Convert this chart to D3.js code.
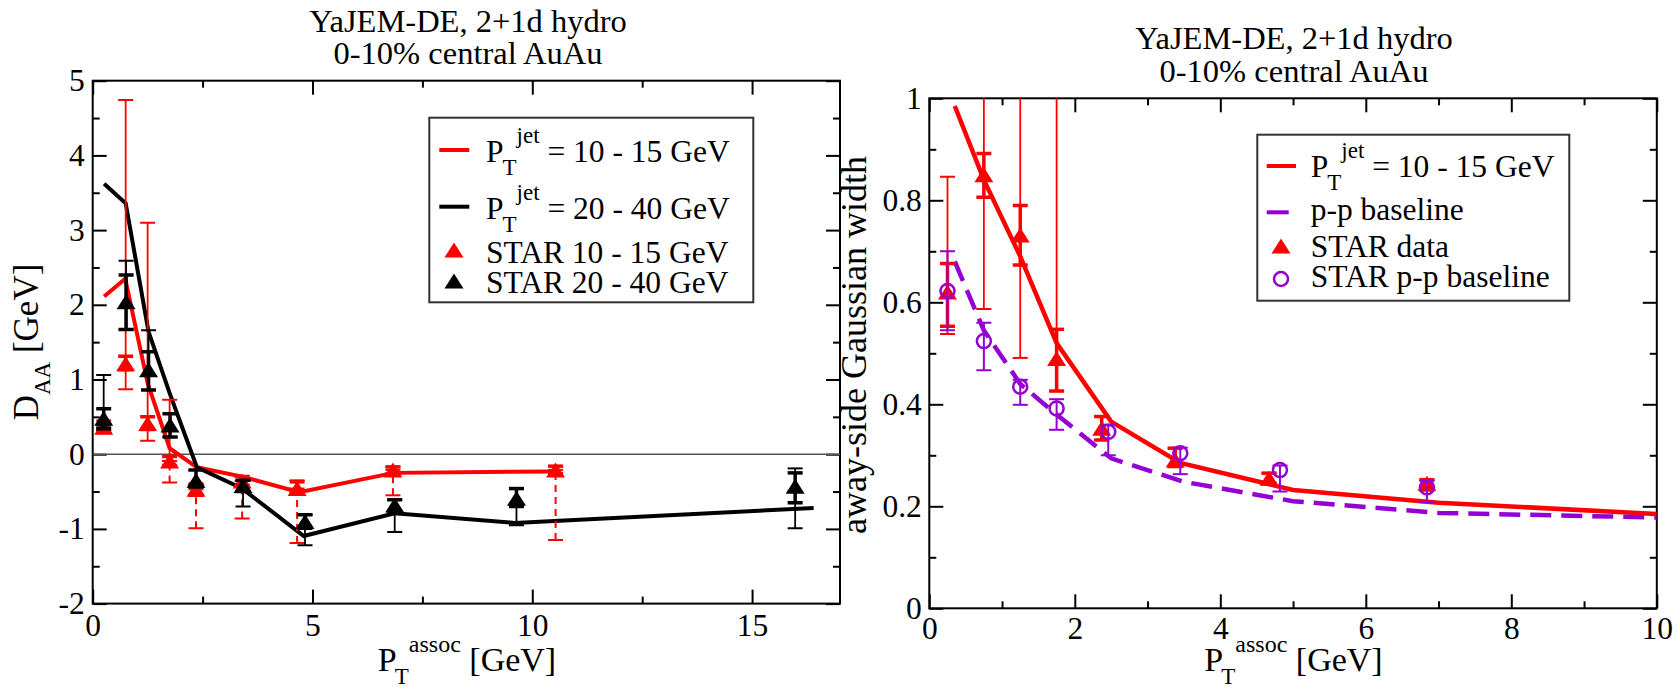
<!DOCTYPE html>
<html>
<head>
<meta charset="utf-8">
<script src="https://cdn.jsdelivr.net/npm/d3@7"></script>
<style>
  body { margin: 0; background: #fff; }
  svg text { font-family: "Liberation Serif", "Times New Roman", serif; fill: #000; }
</style>
</head>
<body>
<div id="chart"></div>
<script>
/** * ------------------ Data: left panel (D_AA) ------------------ ***/

// YaJEM-DE model curves
const modelLowX = [0.26, 0.74, 1.25, 1.75, 2.37, 3.4, 4.7, 6.85, 10.55]
const modelLowY = [2.11, 2.35, 0.95, 0.08, -0.175, -0.30, -0.51, -0.25, -0.23]
const modelHighX = [0.26, 0.75, 1.27, 1.76, 2.37, 3.4, 4.8, 6.87, 9.6, 16.4]
const modelHighY = [3.62, 3.36, 1.64, 0.80, -0.175, -0.46, -1.095, -0.79, -0.92, -0.72]

// STAR 10 - 15 GeV
const starLowX = [0.25, 0.75, 1.25, 1.75, 2.35, 3.4, 4.65, 6.83, 10.53]
const starLowY = [0.36, 1.21, 0.41, -0.09, -0.47, -0.36, -0.46, -0.21, -0.21]
const starLowStatLo = [0.28, 0.87, 0.18, -0.09, -0.55, -0.42, -0.52, -0.26, -0.26]
const starLowStatHi = [0.45, 4.74, 3.10, 0.73, -0.40, -0.30, -0.35, -0.17, -0.16]
const starLowSysLo = [0.30, 1.13, 0.33, -0.15, -0.55, -0.42, -0.52, -0.26, -0.26]
const starLowSysHi = [0.40, 1.31, 0.50, -0.03, -0.40, -0.30, -0.37, -0.17, -0.16]
const starLowDashLo = [null, null, null, -0.38, -0.99, -0.86, -1.19, -0.55, -1.15]

// STAR 20 - 40 GeV
const starHighX = [0.25, 0.76, 1.27, 1.76, 2.35, 3.42, 4.83, 6.87, 9.64, 15.98]
const starHighY = [0.48, 2.04, 1.13, 0.39, -0.35, -0.42, -0.90, -0.68, -0.59, -0.43]
const starHighSysLo = [0.35, 1.67, 0.86, 0.23, -0.44, -0.50, -0.99, -0.77, -0.70, -0.65]
const starHighSysHi = [0.61, 2.40, 1.37, 0.54, -0.21, -0.35, -0.81, -0.61, -0.46, -0.25]
const starHighStatLo = [0.33, 1.67, 0.86, 0.23, -0.44, -0.70, -1.22, -1.04, -0.95, -0.99]
const starHighStatHi = [1.06, 2.59, 1.66, 0.54, -0.21, -0.35, -0.81, -0.61, -0.46, -0.19]

const leftXTicks = [0, 5, 10, 15]
const leftXMinor = [2.5, 7.5, 12.5]
const leftYTicks = [-2, -1, 0, 1, 2, 3, 4, 5]
const leftYMinor = [-1.5, -0.5, 0.5, 1.5, 2.5, 3.5, 4.5]

/** * ------------------ Data: right panel (width) ------------------ ***/

const widthModelX = [0.35, 0.75, 1.25, 1.75, 2.5, 3.45, 5, 7, 10]
const widthModelY = [0.985, 0.84, 0.69, 0.52, 0.366, 0.285, 0.232, 0.207, 0.185]
const widthPPX = [0.35, 0.75, 1.25, 1.75, 2.5, 3.5, 5, 7, 10]
const widthPPY = [0.68, 0.545, 0.44, 0.38, 0.294, 0.248, 0.21, 0.187, 0.178]

// STAR data
const widthStarX = [0.25, 0.75, 1.25, 1.75, 2.37, 3.38, 4.67, 6.84]
const widthStarY = [0.62, 0.85, 0.732, 0.49, 0.353, 0.291, 0.255, 0.245]
const widthStarStatLo = [0.538, 0.587, 0.491, 0.426, 0.33, 0.278, 0.245, 0.232]
const widthStarStatHi = [0.846, 1.2, 1.2, 1.2, 0.376, 0.314, 0.265, 0.252]
const widthStarSysLo = [0.553, 0.806, 0.673, 0.426, 0.33, 0.278, 0.245, 0.232]
const widthStarSysHi = [0.676, 0.892, 0.79, 0.547, 0.376, 0.314, 0.265, 0.252]

// STAR p-p baseline
const ppStarX = [0.25, 0.75, 1.25, 1.75, 2.46, 3.45, 4.82, 6.84]
const ppStarY = [0.622, 0.524, 0.4345, 0.392, 0.346, 0.304, 0.271, 0.237]
const ppStarLo = [0.545, 0.467, 0.399, 0.35, 0.30, 0.263, 0.229, 0.208]
const ppStarHi = [0.70, 0.56, 0.448, 0.41, 0.36, 0.315, 0.28, 0.25]

const rightXTicks = [0, 2, 4, 6, 8, 10]
const rightXMinor = [1, 3, 5, 7, 9]
const rightYTicks = [0, 0.2, 0.4, 0.6, 0.8, 1]
const rightYMinor = [0.1, 0.3, 0.5, 0.7, 0.9]

/** * ------------------ Set up ------------------ ***/

const RED = '#ff0000'
const PURPLE = '#9400d3'
const TRI_W = 19
const TRI_H = 15
const LEG_FONT = 31.5

const svg = d3.select('#chart').append('svg')
  .attr('width', 1677)
  .attr('height', 689)

const xLeft = d3.scaleLinear().domain([0, 17]).range([92.7, 840])
const yLeft = d3.scaleLinear().domain([-2, 5]).range([603.6, 80.7])
const xRight = d3.scaleLinear().domain([0, 10]).range([929.3, 1656.8])
const yRight = d3.scaleLinear().domain([0, 1]).range([608.3, 98.3])

/** * ------------------ Left panel ------------------ ***/

const left = svg.append('g')
drawFrame(left, xLeft, yLeft, leftXTicks, leftXMinor, leftYTicks, leftYMinor, 10, 8, 'clipL')
const leftData = left.append('g').attr('clip-path', 'url(#clipL)')

// zero line
leftData.append('line')
  .attr('x1', xLeft(0)).attr('x2', xLeft(17))
  .attr('y1', yLeft(0)).attr('y2', yLeft(0))
  .attr('stroke', '#555').attr('stroke-width', 1.6)

drawLine(leftData, xLeft, yLeft, modelLowX, modelLowY, RED, 4, null)
drawLine(leftData, xLeft, yLeft, modelHighX, modelHighY, '#000', 4, null)

errorBars(leftData, xLeft, yLeft, starLowX, starLowDashLo, starLowY, RED, 2, 2, '7,5')
errorBars(leftData, xLeft, yLeft, starLowX, starLowStatLo, starLowStatHi, RED, 1.8, 2, null)
errorBars(leftData, xLeft, yLeft, starLowX, starLowSysLo, starLowSysHi, RED, 3.5, 3.5, null)
triangles(leftData, xLeft, yLeft, starLowX, starLowY, RED)

errorBars(leftData, xLeft, yLeft, starHighX, starHighStatLo, starHighStatHi, '#000', 1.8, 2, null)
errorBars(leftData, xLeft, yLeft, starHighX, starHighSysLo, starHighSysHi, '#000', 3.5, 3.5, null)
triangles(leftData, xLeft, yLeft, starHighX, starHighY, '#000')

// titles and axis labels
title(left, 468, 31.5, 64)
left.append('text')
  .attr('transform', 'translate(38,342) rotate(-90)')
  .attr('text-anchor', 'middle')
  .attr('font-size', 35)
  .call(t => {
    t.append('tspan').text('D')
    t.append('tspan').attr('font-size', 23).attr('dy', 12).text('AA')
    t.append('tspan').attr('dy', -12).text(' [GeV]')
  })
xLabel(left, 467, 671)

// legend
const legL = left.append('g')
legL.append('rect')
  .attr('x', 429.3).attr('y', 117.7).attr('width', 324).attr('height', 184.6)
  .attr('fill', '#fff').attr('stroke', '#333').attr('stroke-width', 2)
legendLine(legL, 439.3, 469.3, 150, RED, null)
jetText(legL, 486, 162, ' = 10 - 15 GeV')
legendLine(legL, 439.3, 469.3, 206.7, '#000', null)
jetText(legL, 486, 218.7, ' = 20 - 40 GeV')
legL.append('path').attr('d', triPath()).attr('transform', translation(454, 250)).attr('fill', RED)
legL.append('text').attr('x', 486).attr('y', 262.7).attr('font-size', LEG_FONT).text('STAR 10 - 15 GeV')
legL.append('path').attr('d', triPath()).attr('transform', translation(454, 281)).attr('fill', '#000')
legL.append('text').attr('x', 486).attr('y', 293.3).attr('font-size', LEG_FONT).text('STAR 20 - 40 GeV')

/** * ------------------ Right panel ------------------ ***/

const right = svg.append('g')
drawFrame(right, xRight, yRight, rightXTicks, rightXMinor, rightYTicks, rightYMinor, 8, 7.5, 'clipR')
const rightData = right.append('g').attr('clip-path', 'url(#clipR)')

drawLine(rightData, xRight, yRight, widthModelX, widthModelY, RED, 4.5, null)
drawLine(rightData, xRight, yRight, widthPPX, widthPPY, PURPLE, 4.5, '21,10')

errorBars(rightData, xRight, yRight, widthStarX, widthStarStatLo, widthStarStatHi, RED, 1.8, 2, null)
errorBars(rightData, xRight, yRight, widthStarX, widthStarSysLo, widthStarSysHi, RED, 3.5, 3.5, null)
triangles(rightData, xRight, yRight, widthStarX, widthStarY, RED)

errorBars(rightData, xRight, yRight, ppStarX, ppStarLo, ppStarHi, PURPLE, 2, 2, null)
rightData.selectAll(null)
  .data(d3.zip(ppStarX, ppStarY))
  .join('circle')
  .attr('cx', d => xRight(d[0]))
  .attr('cy', d => yRight(d[1]))
  .attr('r', 7)
  .attr('fill', 'none')
  .attr('stroke', PURPLE)
  .attr('stroke-width', 2.5)

title(right, 1294, 49, 82)
right.append('text')
  .attr('transform', 'translate(866,345) rotate(-90)')
  .attr('text-anchor', 'middle')
  .attr('font-size', 36)
  .text('away-side Gaussian width')
xLabel(right, 1293.5, 671)

const legR = right.append('g')
legR.append('rect')
  .attr('x', 1257.3).attr('y', 134.7).attr('width', 312).attr('height', 166)
  .attr('fill', '#fff').attr('stroke', '#333').attr('stroke-width', 2)
legendLine(legR, 1266.7, 1296, 166, RED, null)
jetText(legR, 1310.7, 176.7, ' = 10 - 15 GeV')
legendLine(legR, 1266.7, 1296, 212.3, PURPLE, '22,10')
legR.append('text').attr('x', 1310.7).attr('y', 220).attr('font-size', LEG_FONT).text('p-p baseline')
legR.append('path').attr('d', triPath()).attr('transform', translation(1281, 246)).attr('fill', RED)
legR.append('text').attr('x', 1310.7).attr('y', 256.7).attr('font-size', LEG_FONT).text('STAR data')
legR.append('circle').attr('cx', 1281).attr('cy', 279).attr('r', 7)
  .attr('fill', 'none').attr('stroke', PURPLE).attr('stroke-width', 2.5)
legR.append('text').attr('x', 1310.7).attr('y', 286.7).attr('font-size', LEG_FONT).text('STAR p-p baseline')

/** * ------------------ Functions ------------------ ***/

function drawFrame (g, x, y, xTicks, xMinor, yTicks, yMinor, xPad, yPad, clipId) {
  const [x0, x1] = x.range()
  const [y1, y0] = y.range()

  g.append('clipPath').attr('id', clipId)
    .append('rect').attr('x', x0).attr('y', y0).attr('width', x1 - x0).attr('height', y1 - y0)

  addAxis(g, d3.axisBottom, x, translation(0, y1), xTicks, 14, true, xPad)
  addAxis(g, d3.axisBottom, x, translation(0, y1), xMinor, 7, false, 0)
  addAxis(g, d3.axisTop, x, translation(0, y0), xTicks, 14, false, 0)
  addAxis(g, d3.axisTop, x, translation(0, y0), xMinor, 7, false, 0)
  addAxis(g, d3.axisLeft, y, translation(x0, 0), yTicks, 14, true, yPad)
  addAxis(g, d3.axisLeft, y, translation(x0, 0), yMinor, 7, false, 0)
  addAxis(g, d3.axisRight, y, translation(x1, 0), yTicks, 14, false, 0)
  addAxis(g, d3.axisRight, y, translation(x1, 0), yMinor, 7, false, 0)

  g.append('rect')
    .attr('x', x0).attr('y', y0).attr('width', x1 - x0).attr('height', y1 - y0)
    .attr('fill', 'none').attr('stroke', '#000').attr('stroke-width', 2)
}

function addAxis (g, axisFn, scale, pos, values, size, labels, pad) {
  const axis = axisFn(scale)
    .tickValues(values)
    .tickSizeInner(-size)
    .tickSizeOuter(0)
    .tickPadding(pad)
    .tickFormat(labels ? d => String(d) : '')
  const a = g.append('g').attr('transform', pos).call(axis)
  a.select('.domain').remove()
  a.selectAll('line').attr('stroke', '#000').attr('stroke-width', 2)
  a.selectAll('text')
    .attr('font-size', 31.5)
    .attr('font-family', '"Liberation Serif", "Times New Roman", serif')
    .attr('fill', '#000')
}

function drawLine (g, x, y, xs, ys, color, width, dash) {
  g.append('path')
    .datum(d3.zip(xs, ys))
    .attr('d', d3.line().x(d => x(d[0])).y(d => y(d[1])))
    .attr('fill', 'none')
    .attr('stroke', color)
    .attr('stroke-width', width)
    .attr('stroke-linejoin', 'miter')
    .attr('stroke-dasharray', dash)
}

function errorBars (g, x, y, xs, lo, hi, color, width, capStroke, dash) {
  const data = d3.range(xs.length)
    .filter(i => lo[i] !== null && hi[i] !== null)
    .map(i => ({ x: xs[i], lo: lo[i], hi: hi[i] }))

  g.selectAll(null)
    .data(data)
    .join('line')
    .attr('x1', d => x(d.x)).attr('x2', d => x(d.x))
    .attr('y1', d => y(d.lo)).attr('y2', d => y(d.hi))
    .attr('stroke', color)
    .attr('stroke-width', width)
    .attr('stroke-dasharray', dash)

  g.selectAll(null)
    .data(data.flatMap(d => [{ x: d.x, v: d.lo }, { x: d.x, v: d.hi }]))
    .join('line')
    .attr('x1', d => x(d.x) - 7.5).attr('x2', d => x(d.x) + 7.5)
    .attr('y1', d => y(d.v)).attr('y2', d => y(d.v))
    .attr('stroke', color)
    .attr('stroke-width', capStroke)
}

function triPath () {
  return 'M0,' + (-TRI_H / 2) + 'L' + (TRI_W / 2) + ',' + (TRI_H / 2) + 'L' + (-TRI_W / 2) + ',' + (TRI_H / 2) + 'Z'
}

function triangles (g, x, y, xs, ys, color) {
  g.selectAll(null)
    .data(d3.zip(xs, ys))
    .join('path')
    .attr('d', triPath())
    .attr('transform', d => translation(x(d[0]), y(d[1])))
    .attr('fill', color)
}

function title (g, cx, y1, y2) {
  g.append('text').attr('x', cx).attr('y', y1).attr('text-anchor', 'middle')
    .attr('font-size', 32.5).text('YaJEM-DE, 2+1d hydro')
  g.append('text').attr('x', cx).attr('y', y2).attr('text-anchor', 'middle')
    .attr('font-size', 32.5).text('0-10% central AuAu')
}

function xLabel (g, cx, y) {
  g.append('text')
    .attr('x', cx).attr('y', y)
    .attr('text-anchor', 'middle')
    .attr('font-size', 34)
    .call(t => {
      t.append('tspan').text('P')
      t.append('tspan').attr('font-size', 23).attr('dx', -2).attr('dy', 13).text('T')
      t.append('tspan').attr('font-size', 24).attr('dy', -32).text('assoc')
      t.append('tspan').attr('dy', 19).text(' [GeV]')
    })
}

function jetText (g, x, y, rest) {
  g.append('text')
    .attr('x', x).attr('y', y)
    .attr('font-size', LEG_FONT)
    .call(t => {
      t.append('tspan').text('P')
      t.append('tspan').attr('font-size', 23).attr('dx', -1).attr('dy', 13).text('T')
      t.append('tspan').attr('font-size', 23).attr('dy', -32).text('jet')
      t.append('tspan').attr('dy', 19).text(rest)
    })
}

function legendLine (g, x1, x2, y, color, dash) {
  g.append('line')
    .attr('x1', x1).attr('x2', x2).attr('y1', y).attr('y2', y)
    .attr('stroke', color).attr('stroke-width', 4)
    .attr('stroke-dasharray', dash)
}

// string concat for translate
function translation (x, y) {
  return 'translate(' + x + ',' + y + ')'
}
</script>
</body>
</html>
